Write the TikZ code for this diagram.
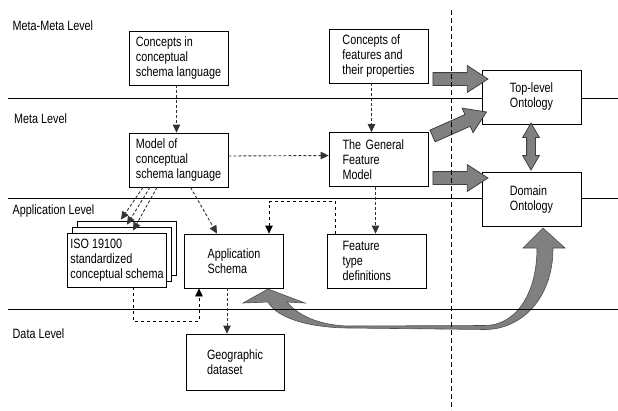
\documentclass[tikz,border=0pt]{standalone}
\usepackage{fontspec}
\setmainfont{Liberation Sans}[FakeStretch=0.8]
\usetikzlibrary{arrows.meta,positioning,shapes.arrows,shadows,calc}

\tikzset{every node/.style={font=\fontsize{13.5pt}{15pt}\selectfont}}
\tikzstyle{box}=[draw,fill=white,line width=0.8pt,minimum width=99pt,minimum height=54pt,align=left,inner sep=3pt]
\tikzstyle{lvl}=[anchor=base west,inner sep=0pt]
\tikzstyle{sep}=[line width=0.8pt]
\tikzstyle{dasharr}=[densely dashed,line width=0.9pt,draw=black!80,-{Triangle[length=8pt,width=7.5pt]}]
\tikzstyle{elbarr}=[dashed,line width=0.8pt,-{Triangle[length=8pt,width=7.5pt]}]
\tikzstyle{blockarr}=[single arrow,draw=black!75,fill=black!50,line width=0.8pt,inner sep=6pt,single arrow head extend=7pt,single arrow tip angle=66,minimum height=55pt]
\tikzstyle{dblarr}=[double arrow,draw=black!75,fill=black!50,line width=0.8pt,inner sep=4pt,double arrow head extend=4pt,double arrow tip angle=60,minimum height=47pt,rotate=90]

\begin{document}
\begin{tikzpicture}[x=1pt,y=-1pt]
\useasboundingbox (0,0) rectangle (618,410);

% curved arrow between application schema and domain ontology
\filldraw[fill=black!50,draw=black!70,line width=0.6pt]
  (350,326) -- (485,325.5) .. controls (515,325.5) and (537,295) .. (537,248)
  -- (523,248) -- (543,228) -- (565,248) -- (553,248)
  .. controls (553,300) and (520,329.5) .. (485,329.5) -- (350,328)
  .. controls (315,328) and (278,320) .. (268,302)
  -- (243,303) -- (268,289) -- (305,303) -- (287,302)
  .. controls (300,318) and (325,326) .. (350,326) -- cycle;

% level separators
\foreach \y in {98,198,309}
  \draw[sep] (8,\y) -- (618,\y);

\node[lvl] (mml) at (12.5,30) {Meta-Meta Level};
\node[lvl] (ml) at (14,123) {Meta Level};
\node[lvl] (al) at (12.5,214.5) {Application Level};
\node[lvl] (dl) at (12.5,338) {Data Level};

\node[box] (cin) at (178.5,58) {Concepts in\\conceptual\\schema language};
\node[box] (model) at (178.5,160) {Model of\\conceptual\\schema language};
\node[box] (cfeat) at (378.5,56) {Concepts of\\features and\\their properties};
\node[box,text width=72pt] (gfm) at (378.5,159.5) {The General\\Feature\\Model};
\node[box] (top) at (531.5,97) {Top-level\\Ontology};
\node[box] (dom) at (531.5,199.5) {Domain\\Ontology};
\node[box,text width=68pt] (ftd) at (376.5,261) {Feature\\type\\definitions};
\node[box] (app) at (234,261) {Application\\Schema};
\node[box,inner xsep=1pt,
  double copy shadow={shadow xshift=5pt,shadow yshift=6pt,fill=white,draw=black,line width=0.8pt}]
  (iso) at (117,260) {ISO 19100\\standardized\\conceptual schema};
\node[box,minimum width=98pt,minimum height=56pt] (geo) at (235,362) {Geographic\\dataset};

% dashed dependencies
\draw[dasharr] ([xshift=-2pt]cin.south) -- ([xshift=-2pt]model.north);
\draw[dasharr] ([xshift=-7pt]cfeat.south) -- ([xshift=-7pt]gfm.north);
\draw[dasharr] ([yshift=4pt]model.east) -- ([yshift=4pt]gfm.west);
\draw[dasharr] ([xshift=-3pt]gfm.south) -- ([xshift=-3pt]gfm.south |- ftd.north);
\draw[dasharr] ([xshift=-35.5pt]model.south) -- ([shift={(4pt,13pt)}]iso.north);
\draw[dasharr] ([xshift=-28.5pt]model.south) -- ([shift={(10pt,8pt)}]iso.north);
\draw[dasharr] ([xshift=-21.5pt]model.south) -- ([shift={(16pt,2pt)}]iso.north);
\draw[dasharr] ([xshift=12pt]model.south) -- ([xshift=-17pt]app.north);
\draw[dasharr] ([xshift=-7pt]app.south) -- ([xshift=-7pt]app.south |- geo.north);
\draw[elbarr] ([xshift=9pt]ftd.north west) -- ++(0,-32) -| ([xshift=35pt]app.north);
\draw[elbarr] ([xshift=16pt]iso.south) -- ++(0,34) -| ([xshift=-35pt]app.south);

% block arrows to the ontologies
\node[blockarr] (fa) at (455.5,79) {};
\node[blockarr,rotate=24,minimum height=59pt] (ga) at (455,126) {};
\node[blockarr] (da) at (455.5,178) {};
\node[dblarr] (td) at (531,146.5) {};

\draw[line width=0.7pt,dash pattern=on 5pt off 3pt] (451,10) -- (451,410);
\end{tikzpicture}
\end{document}
